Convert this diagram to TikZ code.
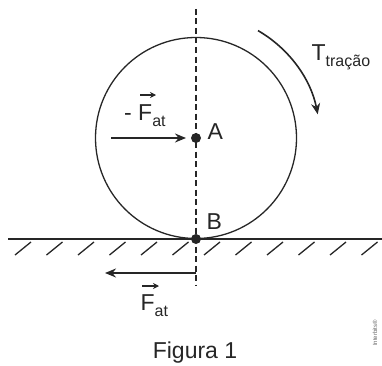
\documentclass[tikz,border=0pt]{standalone}
\usepackage{fontspec}
\setmainfont{Liberation Sans}
\usetikzlibrary{arrows.meta, positioning}
\newcommand{\lowsub}[1]{\raisebox{-0.3em}{\fontsize{16}{16}\selectfont #1}}

\begin{document}
\begin{tikzpicture}[>={Stealth[length=11pt, width=9pt]}, x=1pt, y=1pt,
    line width=1.3pt, draw=black!85,
    lbl/.style={font=\fontsize{23}{27}\selectfont, inner sep=0pt, text=black!85},
    dot/.style={circle, fill=black!85, minimum size=10pt, inner sep=0pt},
    axisline/.style={dash pattern=on 6pt off 3.5pt, line width=1.8pt},
    force/.style={->, line width=1.6pt},
    vecmark/.style={-{Stealth[length=6pt, width=6pt]}, line width=1.2pt}]
  \useasboundingbox (0,0) rectangle (382,365);

  % vertical axis and wheel
  \draw[axisline] (196,356) -- (196,79);
  \draw (196,227) circle[radius=100.5];

  % ground
  \draw (8,126) -- (382,126);
  \foreach \x in {0,...,11}
    \draw (15+31.5*\x,110) -- ++(16,13);

  \node[dot] (A) at (196,227) {};
  \node[dot] (B) at (196,126) {};
  \node[lbl, anchor=base west] (labA) at (207,226) {A};
  \node[lbl, anchor=base west] (labB) at (206,136) {B};

  % forces
  \coordinate (fa0) at (111,227);
  \coordinate (fa1) at (186,227);
  \draw[force] (fa0) -- (fa1);
  \node[lbl, anchor=base west] (fatup) at (123.5,245) {- F\lowsub{at}};
  \draw[vecmark] ([shift={(16.5,25)}]fatup.base west) -- ++(16,0);

  \coordinate (fb0) at (196,92);
  \coordinate (fb1) at (105,92);
  \draw[force] (fb0) -- (fb1);
  \node[lbl, anchor=base west] (fatlow) at (140,55) {F\lowsub{at}};
  \draw[vecmark] ([shift={(2,24)}]fatlow.base west) -- ++(17,0);

  % torque
  \draw[force] ([shift={(60:124)}]A) arc[start angle=60, end angle=11, radius=124];
  \node[lbl, anchor=base west] (torque) at (311,305) {T\lowsub{tração}};

  \node[lbl, anchor=base] (caption) at (195,7) {Figura 1};
  \node[font=\fontsize{6}{7}\selectfont, text=black!60, rotate=90] (credit) at (375,32) {Interbits®};
\end{tikzpicture}
\end{document}
